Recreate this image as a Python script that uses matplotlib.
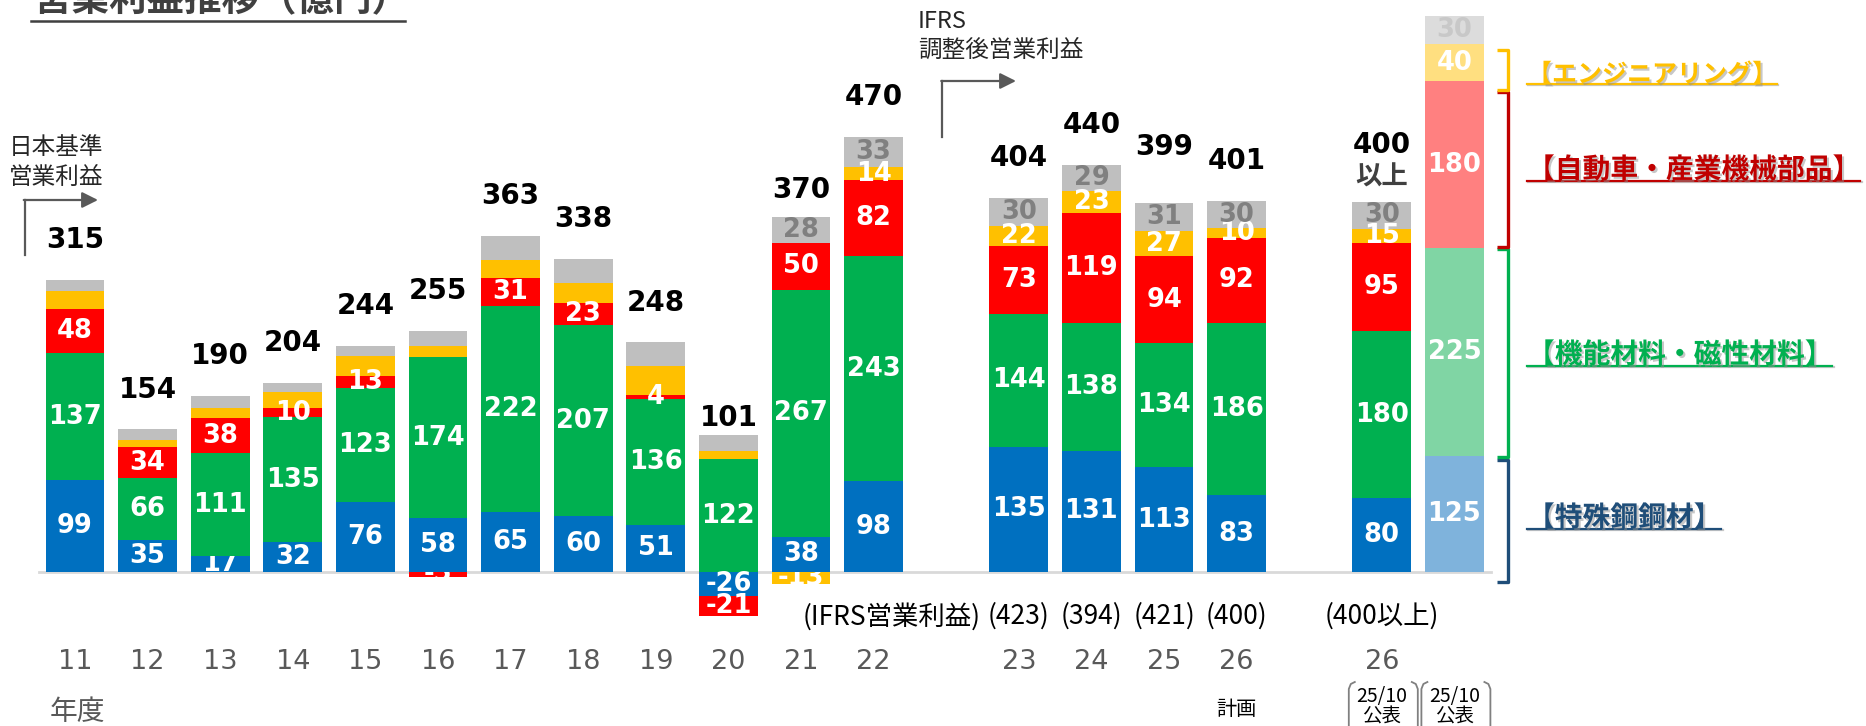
import matplotlib
matplotlib.use('Agg')
import matplotlib.pyplot as plt
import matplotlib.patheffects as pe
import numpy as np

# 年度 (最後の2本は 26年度計画 / 25/10公表の新中計)
years = ['11', '12', '13', '14', '15', '16', '17', '18', '19', '20', '21', '22',
         '23', '24', '25', '26', '26', '']

# セグメント別営業利益 (億円)
blue = [99, 35, 17, 32, 76, 58, 65, 60, 51, -26, 38, 98, 135, 131, 113, 83, 80, 125]
green = [137, 66, 111, 135, 123, 174, 222, 207, 136, 122, 267, 243, 144, 138, 134, 186, 180, 225]
red = [48, 34, 38, 10, 13, -5, 31, 23, 4, -21, 50, 82, 73, 119, 94, 92, 95, 180]
yellow = [19, 8, 11, 17, 21, 12, 19, 22, 31, 9, -13, 14, 22, 23, 27, 10, 15, 40]
gray = [12, 11, 13, 10, 11, 16, 26, 26, 26, 17, 28, 33, 30, 29, 31, 30, 30, 30]

totals = ['315', '154', '190', '204', '244', '255', '363', '338', '248', '101', '370', '470',
          '404', '440', '399', '401', '400', '']
ifrs_labels = ['(423)', '(394)', '(421)', '(400)', '(400以上)']

segment_names = ['【特殊鋼鋼材】', '【機能材料・磁性材料】', '【自動車・産業機械部品】', '【エンジニアリング】']

W, H = 1866, 726
JP = 'Noto Sans CJK JP'
NUM = 'DejaVu Sans'

dark = ['#0070c0', '#00b050', '#ff0000', '#ffc000', '#bfbfbf']
light = ['#7fb3dc', '#80d5a4', '#ff8080', '#ffdf80', '#dcdcdc']
name_colors = ['#1f4e79', '#00b050', '#c00000', '#ffc000']


def fx(x):
    return x / W


def fy(y):
    return 1 - y / H


xpos = np.r_[np.arange(12), np.arange(13, 17), 18, 19].astype(float)
n = len(xpos)

fig = plt.figure(figsize=(W / 100, H / 100), dpi=100)
ax = fig.add_axes([0, 0, 1, 1])
ax.set_xlim(-75 / 72.6, (W - 75) / 72.6)
ax.set_ylim(-(H - 572) / 0.926, 572 / 0.926)
ax.axis('off')

# baseline
ax.plot([-0.5, 19.5], [0, 0], color='#d9d9d9', lw=2, zorder=1)

series = [blue, green, red, yellow, gray]
pos_bot = np.zeros(n)
neg_bot = np.zeros(n)
clipped = {(2, 0), (5, 2), (10, 3)}  # labels cut by the bar edge in the original

for k, s in enumerate(series):
    vals = np.array(s, dtype=float)
    bottom = np.where(vals >= 0, pos_bot, neg_bot)
    cols = [dark[k]] * (n - 1) + [light[k]]
    bars = ax.bar(xpos, vals, 0.81, bottom=bottom, color=cols, zorder=2)
    for i, (rect, v) in enumerate(zip(bars, vals)):
        if k >= 3 and i < 10:
            continue
        if k == 4:
            tc = '#c8c8c8' if i == n - 1 else '#808080'
        else:
            tc = 'white'
        t = ax.text(xpos[i], bottom[i] + v / 2, str(int(v)), ha='center', va='center',
                    fontsize=18.5, weight='bold', color=tc, family=NUM, zorder=3)
        if (i, k) in clipped:
            t.set_clip_on(True)
            t.set_clip_path(rect)
    pos_bot = np.where(vals >= 0, pos_bot + vals, pos_bot)
    neg_bot = np.where(vals < 0, neg_bot + vals, neg_bot)

# totals
gap = {9: 18, 10: 30, 14: 60}
for i, lab in enumerate(totals):
    if not lab:
        continue
    if i == 16:
        ax.text(xpos[i], pos_bot[i] + 61, lab, ha='center', va='center', fontsize=20,
                weight='bold', color='black', family=NUM)
        ax.text(xpos[i], pos_bot[i] + 27, '以上', ha='center', va='center', fontsize=19,
                weight='bold', color='#404040', family=JP)
        continue
    ax.text(xpos[i], pos_bot[i] + gap.get(i, 43), lab, ha='center', va='center',
            fontsize=20, weight='bold', color='black', family=NUM)

# year ticks
for i, lab in enumerate(years):
    if lab:
        ax.text(xpos[i], -97, lab, ha='center', va='center', fontsize=19.5,
                color='#595959', family=NUM)

# IFRS operating profit in brackets
ax.text(11.25, -48, '(IFRS営業利益)', ha='center', va='center', fontsize=19,
        color='black', family=JP)
for x, lab in zip(xpos[12:17], ifrs_labels):
    ax.text(x, -48, lab, ha='center', va='center', fontsize=19, color='black', family=JP)

ax.text(fx(77), fy(712), '年度', transform=ax.transAxes, ha='center', va='center',
        fontsize=20, color='#595959', family=JP)
ax.text(xpos[15], -148, '計画', ha='center', va='center', fontsize=14.5,
        color='black', family=JP)

# 25/10 公表 boxes
for x in xpos[16:18]:
    ax.text(x, -134, '25/10', ha='center', va='center', fontsize=14, color='black', family=JP)
    ax.text(x, -157, '公表', ha='center', va='center', fontsize=14, color='black', family=JP)
    cx = 75 + x * 72.6
    xl, xr, top = cx - 33, cx + 36, 682
    ax.plot([fx(xl + 6), fx(xl + 2), fx(xl), fx(xl)], [fy(top), fy(top + 2), fy(top + 7), fy(H + 5)],
            transform=ax.transAxes, color='#808080', lw=1.3, clip_on=False)
    ax.plot([fx(xr - 6), fx(xr - 2), fx(xr), fx(xr)], [fy(top), fy(top + 2), fy(top + 7), fy(H + 5)],
            transform=ax.transAxes, color='#808080', lw=1.3, clip_on=False)

# title (partly outside the slide)
ax.text(fx(34), fy(19), '営業利益推移（億円）', transform=ax.transAxes, ha='left', va='bottom',
        fontsize=27, weight='bold', color='#404040', family=JP)
ax.plot([fx(31), fx(405)], [fy(21), fy(21)], transform=ax.transAxes, color='#404040', lw=1.8)

# basis annotations with bent arrows
ax.text(fx(9), fy(148), '日本基準', transform=ax.transAxes, ha='left', va='center',
        fontsize=17, color='#262626', family=JP)
ax.text(fx(9), fy(177), '営業利益', transform=ax.transAxes, ha='left', va='center',
        fontsize=17, color='#262626', family=JP)
ax.text(fx(918), fy(22), 'IFRS', transform=ax.transAxes, ha='left', va='center',
        fontsize=17, color='#262626', family=JP)
ax.text(fx(918), fy(50), '調整後営業利益', transform=ax.transAxes, ha='left', va='center',
        fontsize=17, color='#262626', family=JP)
for x0, y0, y1, x1 in [(24.5, 255, 200, 98), (942, 137, 81, 1016)]:
    ax.plot([fx(x0), fx(x0)], [fy(y0), fy(y1)], transform=ax.transAxes, color='#595959', lw=1.6)
    ax.annotate('', xy=(fx(x1), fy(y1)), xytext=(fx(x0) - 0.0004, fy(y1)),
                xycoords='axes fraction', textcoords='axes fraction',
                arrowprops=dict(arrowstyle='-|>', color='#595959', lw=1.6,
                                mutation_scale=24, shrinkA=0, shrinkB=0))

# segment brackets and names, derived from the last (light) bar
last = np.array([s[-1] for s in series[:4]], dtype=float)
tops = np.cumsum(last)
bots = tops - last
spans = [(-11, tops[0] - 4), (bots[1] - 1, tops[1] - 1), (bots[2] + 1, tops[2] - 12),
         (bots[3] - 9, tops[3] - 6)]
name_y = [518, 355, 170, 75]
name_size = [20, 20, 20, 18]
xb = (1508 - 75) / 72.6
xs = (1497 - 75) / 72.6
shadow = [pe.withSimplePatchShadow(offset=(1.5, -1.5), shadow_rgbFace='#909090', alpha=0.5)]
name_texts = []
for k in range(4):
    lo, hi = spans[k]
    ax.plot([xs, xb, xb, xs], [hi, hi, lo, lo], color=name_colors[k], lw=2.4,
            solid_joinstyle='round', solid_capstyle='butt', zorder=2)
    t = ax.text(fx(1527), fy(name_y[k]), segment_names[k], transform=ax.transAxes,
                ha='left', va='center', fontsize=name_size[k], weight='bold',
                color=name_colors[k], family=JP, path_effects=shadow)
    name_texts.append(t)

fig.canvas.draw()
renderer = fig.canvas.get_renderer()
inv = fig.transFigure.inverted()
for k, t in enumerate(name_texts):
    bb = t.get_window_extent(renderer)
    (x0, y0), (x1, _) = inv.transform([(bb.x0, bb.y0 + 3), (bb.x1, bb.y0 + 3)])
    ax.plot([x0, x1], [y0, y0], transform=ax.transAxes, color=name_colors[k], lw=1.6,
            path_effects=[pe.SimpleLineShadow(offset=(1, -1), shadow_color='#909090', alpha=0.5),
                          pe.Normal()])

fig.savefig('out.png', dpi=100)
